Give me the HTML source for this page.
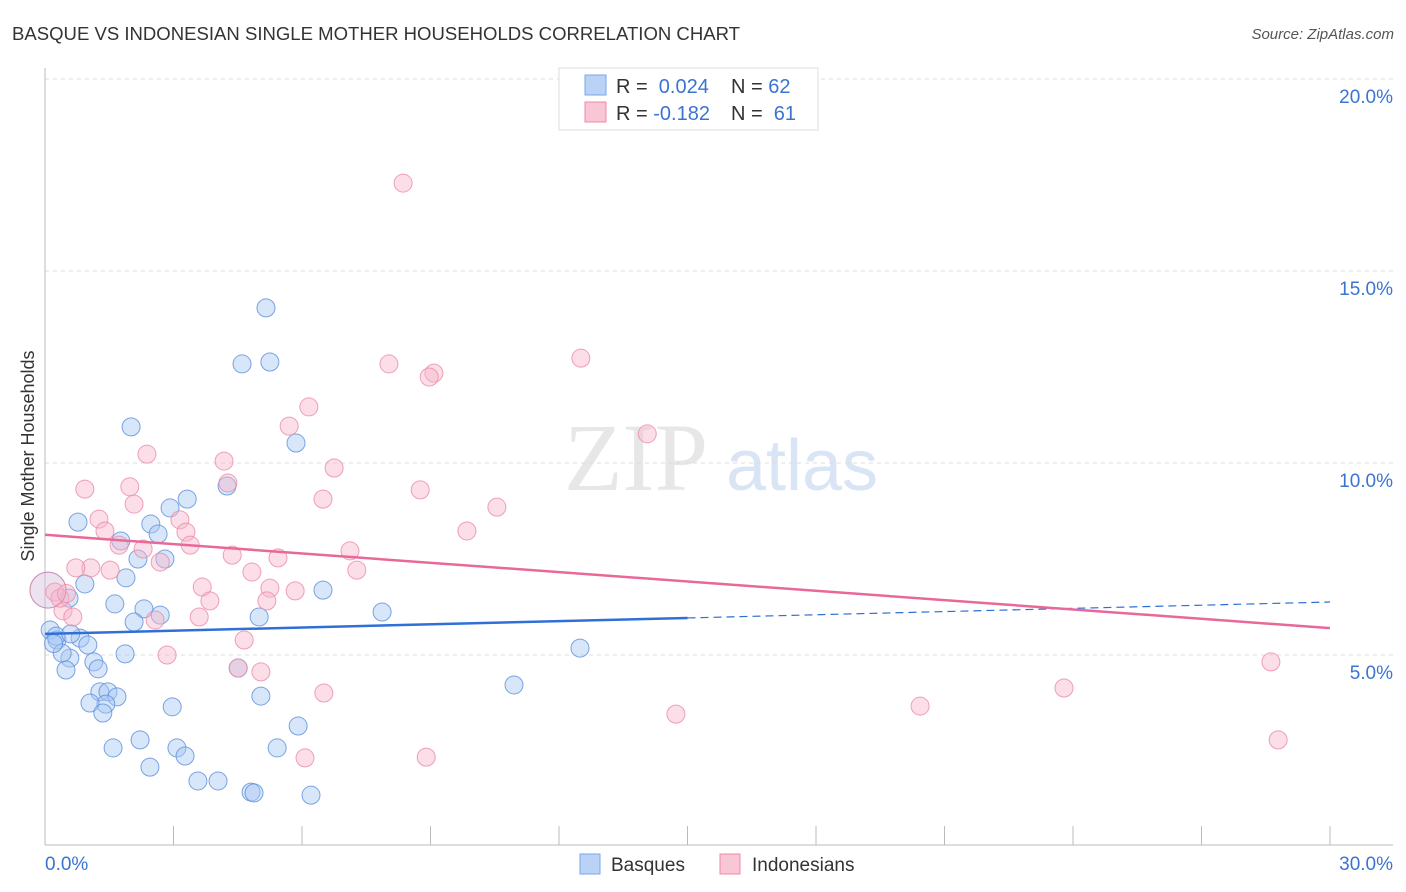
<!DOCTYPE html>
<html><head><meta charset="utf-8"><style>
body{margin:0;background:#fff;font-family:"Liberation Sans",sans-serif;}
#wrap{position:relative;width:1406px;height:892px;overflow:hidden;}
</style></head><body>
<div id="wrap">
<svg id="svg" width="1406" height="892" xmlns="http://www.w3.org/2000/svg">
<text x="12" y="40" font-size="18" fill="#333" textLength="728" lengthAdjust="spacingAndGlyphs">BASQUE VS INDONESIAN SINGLE MOTHER HOUSEHOLDS CORRELATION CHART</text>
<text x="1394" y="39" font-size="15" fill="#555" font-style="italic" text-anchor="end">Source: ZipAtlas.com</text>
<text x="636" y="490" font-size="96" fill="#ddd" font-family="Liberation Serif,serif" text-anchor="middle" opacity="0.7">ZIP</text>
<text x="802" y="490" font-size="72" fill="#c9daf2" text-anchor="middle" opacity="0.7">atlas</text>
<text transform="translate(34,456) rotate(-90)" font-size="18" fill="#333" text-anchor="middle">Single Mother Households</text>
<g id="grid"></g><g id="marks"></g>
<g>
<rect x="559" y="68" width="259" height="62" fill="#fff" stroke="#ddd"/>
<rect x="585" y="75" width="21" height="20" fill="#b9d2f5" stroke="#7aa6e6"/>
<rect x="585" y="102" width="21" height="20" fill="#f9c6d5" stroke="#f08aa9"/>
<text x="616" y="93" font-size="20" fill="#333">R = <tspan fill="#3b74d0">&#160;0.024</tspan><tspan x="731">N = </tspan><tspan fill="#3b74d0">62</tspan></text>
<text x="616" y="120" font-size="20" fill="#333">R = <tspan fill="#3b74d0">-0.182</tspan><tspan x="731">N = </tspan><tspan fill="#3b74d0">&#160;61</tspan></text>
</g>
<g>
<rect x="580" y="854" width="20" height="20" fill="#b9d2f5" stroke="#7aa6e6"/>
<text x="611" y="871" font-size="19" fill="#333">Basques</text>
<rect x="720" y="854" width="20" height="20" fill="#f9c6d5" stroke="#f08aa9"/>
<text x="752" y="871" font-size="19" fill="#333">Indonesians</text>
</g>
</svg></div>
<script>
const xTicks=[0,3,6,9,12,15,18,21,24,27,30];
const yTicks=[5,10,15,20];
const blueX=[5.16,4.60,5.25,2.01,5.86,3.32,4.25,2.92,0.77,2.47,2.64,1.77,2.17,2.80,1.89,0.93,0.56,1.63,2.31,2.69,2.08,5.00,6.49,7.87,0.12,0.28,0.82,1.00,0.58,0.40,1.14,1.24,0.49,1.87,4.51,1.28,1.47,1.68,1.42,1.05,1.35,2.97,5.04,5.91,2.22,1.59,3.08,3.27,2.45,3.57,4.04,4.81,4.88,6.21,5.42,10.95,12.49,0.26,0.20,0.60,0.07];
const blueY=[14.04,12.58,12.63,10.94,10.52,9.06,9.40,8.83,8.46,8.41,8.15,7.97,7.50,7.50,7.01,6.85,6.48,6.33,6.20,6.04,5.86,5.99,6.69,6.12,5.65,5.39,5.44,5.26,4.92,5.05,4.82,4.64,4.61,5.03,4.66,4.04,4.04,3.91,3.72,3.75,3.49,3.65,3.93,3.15,2.79,2.58,2.58,2.37,2.08,1.72,1.72,1.43,1.41,1.35,2.58,4.22,5.18,5.49,5.30,5.55,6.69];
const pinkX=[8.36,12.51,8.03,9.08,8.97,6.16,5.70,14.06,2.38,4.18,6.75,0.93,1.98,8.76,4.27,6.49,10.55,1.26,3.15,2.08,1.40,3.29,9.85,1.73,3.39,2.29,7.12,4.37,2.69,5.44,1.07,0.72,1.52,4.83,7.28,3.67,5.25,5.84,3.85,5.18,0.42,0.65,2.57,3.60,4.65,2.85,5.04,6.51,6.07,8.90,14.73,20.43,23.79,28.62,28.79,0.23,0.35,4.51,0.50,0.07];
const pinkY=[17.29,12.73,12.58,12.34,12.24,11.46,10.96,10.76,10.23,10.05,9.87,9.32,9.38,9.30,9.48,9.06,8.85,8.54,8.52,8.93,8.23,8.20,8.23,7.86,7.86,7.76,7.71,7.60,7.42,7.53,7.27,7.27,7.21,7.16,7.21,6.77,6.74,6.67,6.41,6.41,6.15,5.99,5.91,5.99,5.39,5.00,4.56,4.01,2.32,2.34,3.46,3.67,4.14,4.82,2.79,6.64,6.48,4.66,6.60,6.69];
const blueLine=[5.55,6.38]; const pinkLine=[8.13,5.70];
const NS="http://www.w3.org/2000/svg";
const X=v=>45+v/30*1285, Y=v=>847-v*38.4;
function mk(t,a,p){const e=document.createElementNS(NS,t);for(const k in a)e.setAttribute(k,a[k]);p.appendChild(e);return e;}
const grid=document.getElementById('grid'),marks=document.getElementById('marks');
yTicks.forEach(t=>{
 const l=mk('line',{x1:45,x2:1393,y1:Y(t),y2:Y(t),stroke:'#ddd','stroke-dasharray':'4,4'},grid);
 
 
 const tx=mk('text',{x:1393,y:Y(t)+24,'font-size':19,fill:'#3b74d0','text-anchor':'end'},grid);
 tx.textContent=t.toFixed(1)+'%';
 
 
});
xTicks.forEach(t=>{
 const l=mk('line',{x1:X(t),x2:X(t),y1:826,y2:845,stroke:'#bbb'},grid);
 
 
});
let a=mk('line',{x1:45,x2:45,y1:68,y2:845,stroke:'#bbb'},grid);


a=mk('line',{x1:45,x2:1393,y1:845,y2:845,stroke:'#bbb'},grid);


[[0,45,'start','x-tick-label-min'],[30,1393,'end','x-tick-label-max']].forEach(([v,x,an,n])=>{
 const t=mk('text',{x:x,y:870,'font-size':19,fill:'#3b74d0','text-anchor':an},grid);
 t.textContent=v.toFixed(1)+'%';
 
 
});
function pts(xs,ys,fill,stroke,name){xs.forEach((x,i)=>{
 const big=(x<0.1);
 const c=mk('circle',{cx:X(x),cy:Y(ys[i]),r:big?18:9,fill:fill,'fill-opacity':big?0.25:0.45,stroke:stroke,'stroke-opacity':0.8,'stroke-width':1},marks);
 
 
});}
pts(blueX,blueY,'#a9c8f2','#5b8fdc','basque-point');
pts(pinkX,pinkY,'#f7b6ca','#ec8aa8','indonesian-point');
let ln=mk('line',{x1:X(0),y1:Y(blueLine[0]),x2:X(15),y2:Y(blueLine[0]+(blueLine[1]-blueLine[0])/2),stroke:'#2f6fd6','stroke-width':2.5},marks);


ln=mk('line',{x1:X(15),y1:Y(blueLine[0]+(blueLine[1]-blueLine[0])/2),x2:X(30),y2:Y(blueLine[1]),stroke:'#2f6fd6','stroke-width':1.2,'stroke-dasharray':'8,5'},marks);


ln=mk('line',{x1:X(0),y1:Y(pinkLine[0]),x2:X(30),y2:Y(pinkLine[1]),stroke:'#e8689a','stroke-width':2.5},marks);


</script>
</body></html>
